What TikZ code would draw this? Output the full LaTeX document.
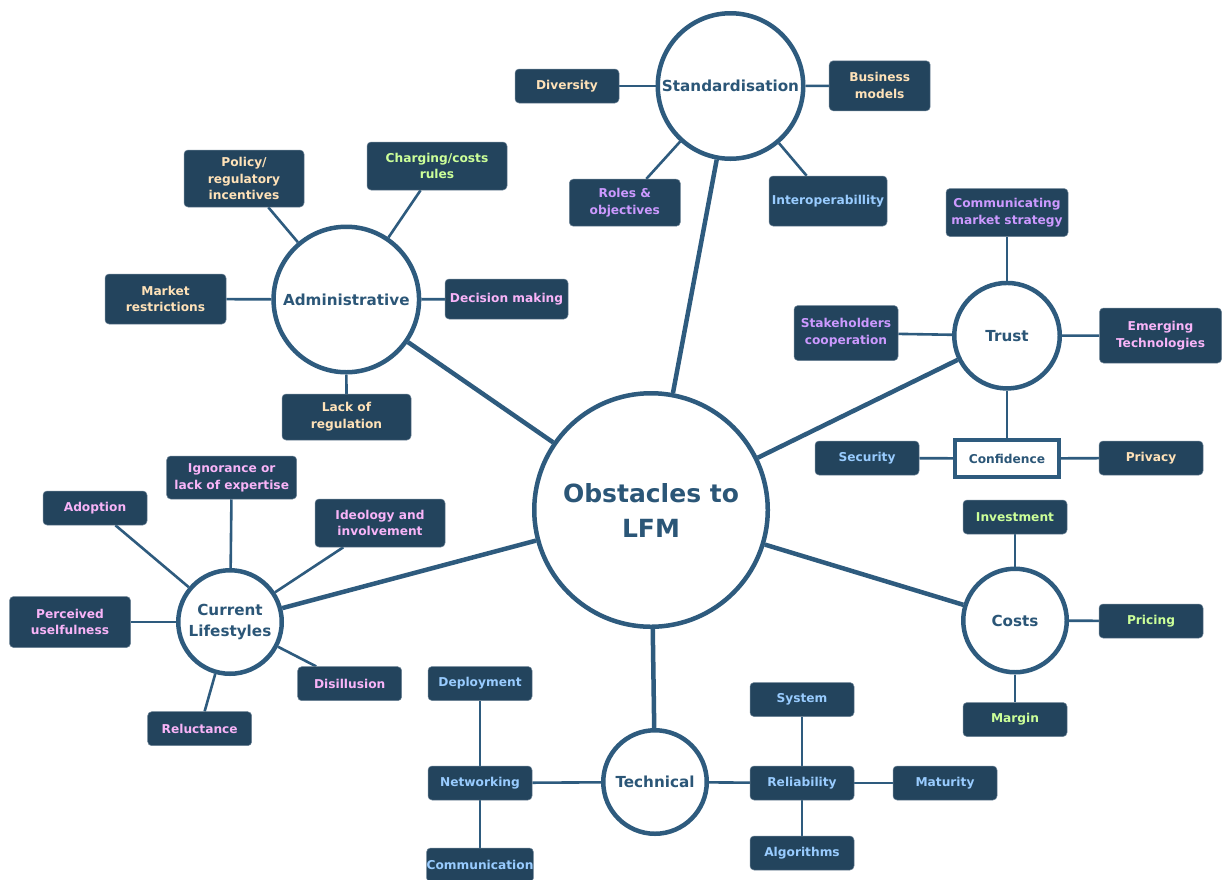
\documentclass[tikz,border=0pt]{standalone}
\usepackage{fontspec}
\setmainfont{DejaVu Sans}
\usetikzlibrary{backgrounds}
\definecolor{navy}{HTML}{23445D}
\definecolor{steel}{HTML}{2E5B7E}
\definecolor{hubtext}{HTML}{2B5677}
\definecolor{peach}{HTML}{FFE2B8}
\definecolor{lgreen}{HTML}{CCFF99}
\definecolor{purp}{HTML}{CC99FF}
\definecolor{pinkish}{HTML}{F8B4F8}
\definecolor{lblue}{HTML}{99CCFF}
\definecolor{boxedge}{HTML}{6C8396}
\newcommand\boxfnt{\fontsize{12.2}{16.8}\selectfont\bfseries}
\newcommand\hubfnt{\fontsize{15.2}{21}\selectfont\bfseries}
\newcommand\mainfnt{\fontsize{25}{35}\selectfont\bfseries}
\tikzset{
  bx/.style={rectangle, rounded corners=4pt, fill=navy, draw=boxedge, line width=0.5pt,
    font=\boxfnt, align=center, inner sep=0pt},
  hub/.style={circle, draw=steel, line width=4.5pt, fill=white, text=hubtext,
    font=\hubfnt, align=center, inner sep=0pt},
  conf/.style={rectangle, draw=steel, line width=4pt, fill=white, text=hubtext,
    font=\boxfnt, inner sep=0pt},
  link/.style={draw=steel, line width=2.6pt},
  mainlink/.style={draw=steel, line width=4.5pt},
}
\begin{document}
\begin{tikzpicture}[x=1pt,y=-1pt]
\useasboundingbox (0,0) rectangle (1222,879);

% hubs
\node[hub, minimum size=233.5, font=\mainfnt] (c) at (651,510) {Obstacles to\\LFM};
\node[hub, minimum size=145.5] (std) at (730.5,86) {Standardisation};
\node[hub, minimum size=145.5] (adm) at (346.3,299.5) {Administrative};
\node[hub, minimum size=105.5] (trust) at (1007,335.7) {Trust};
\node[hub, minimum size=103.5] (costs) at (1015,620.5) {Costs};
\node[hub, minimum size=103.5] (tech) at (655,782) {Technical};
\node[hub, minimum size=103.5] (cl) at (230,622) {Current\\Lifestyles};

% Standardisation
\node[bx, text=peach, minimum width=104, minimum height=34] (div) at (567,86) {Diversity};
\node[bx, text=peach, minimum width=101, minimum height=50] (bm) at (879.7,85.8) {Business\\models};
\node[bx, text=purp, minimum width=111, minimum height=47] (roles) at (624.8,202.7) {Roles \&\\objectives};
\node[bx, text=lblue, minimum width=118, minimum height=50] (inter) at (828,201) {Interoperabillity};

% Administrative
\node[bx, text=peach, minimum width=120, minimum height=57] (pol) at (244,178.5) {Policy/\\regulatory\\incentives};
\node[bx, text=lgreen, minimum width=140, minimum height=48] (chg) at (437,166) {Charging/costs\\rules};
\node[bx, text=peach, minimum width=121, minimum height=50] (mkt) at (165.5,299) {Market\\restrictions};
\node[bx, text=pinkish, minimum width=123, minimum height=40] (dec) at (506.5,299) {Decision making};
\node[bx, text=peach, minimum width=129, minimum height=46] (lack) at (346.5,417) {Lack of\\regulation};

% Trust
\node[bx, text=purp, minimum width=122, minimum height=48] (comm) at (1007,212.5) {Communicating\\market strategy};
\node[bx, text=purp, minimum width=104, minimum height=55] (stk) at (846,333) {Stakeholders\\cooperation};
\node[bx, text=pinkish, minimum width=122, minimum height=55] (emg) at (1160.5,335.5) {Emerging\\Technologies};
\node[conf, minimum width=104, minimum height=37] (cnf) at (1007,458.5) {Confidence};
\node[bx, text=lblue, minimum width=104, minimum height=34] (sec) at (867,458) {Security};
\node[bx, text=peach, minimum width=104, minimum height=34] (prv) at (1151,458) {Privacy};

% Costs
\node[bx, text=lgreen, minimum width=104, minimum height=34] (inv) at (1015,517) {Investment};
\node[bx, text=lgreen, minimum width=104, minimum height=34] (prc) at (1151,621) {Pricing};
\node[bx, text=lgreen, minimum width=104, minimum height=34] (mrg) at (1015,719.5) {Margin};

% Current Lifestyles
\node[bx, text=pinkish, minimum width=104, minimum height=34] (adp) at (95,508) {Adoption};
\node[bx, text=pinkish, minimum width=130, minimum height=43] (ign) at (231.7,477.5) {Ignorance or\\lack of expertise};
\node[bx, text=pinkish, minimum width=130, minimum height=48] (ideo) at (380,523) {Ideology and\\involvement};
\node[bx, text=pinkish, minimum width=121, minimum height=51] (perc) at (70,622) {Perceived\\uselfulness};
\node[bx, text=pinkish, minimum width=104, minimum height=34] (dis) at (349.7,683.7) {Disillusion};
\node[bx, text=pinkish, minimum width=104, minimum height=34] (rel) at (199.7,728.7) {Reluctance};

% Technical
\node[bx, text=lblue, minimum width=104, minimum height=34] (dep) at (480,683.5) {Deployment};
\node[bx, text=lblue, minimum width=104, minimum height=34] (net) at (480,783) {Networking};
\node[bx, text=lblue, minimum width=104, minimum height=34] (com) at (480,865) {Communication};
\node[bx, text=lblue, minimum width=104, minimum height=34] (sys) at (802,699.5) {System};
\node[bx, text=lblue, minimum width=104, minimum height=34] (rlb) at (802,783) {Reliability};
\node[bx, text=lblue, minimum width=104, minimum height=34] (alg) at (802,853) {Algorithms};
\node[bx, text=lblue, minimum width=104, minimum height=34] (mat) at (945,783) {Maturity};

\begin{scope}[on background layer]
\fill[white] (0,0) rectangle (1222,879);
\draw[mainlink] (c) -- (std);
\draw[mainlink] (c) -- (adm);
\draw[mainlink] (c) -- (trust);
\draw[mainlink] (c) -- (costs);
\draw[mainlink] (c) -- (tech);
\draw[mainlink] (c) -- (cl);
\draw[link] (std) -- (div);
\draw[link] (std) -- (bm);
\draw[link] (std) -- (roles);
\draw[link] (std) -- (inter);
\draw[link] (adm) -- (pol);
\draw[link] (adm) -- (chg);
\draw[link] (adm) -- (mkt);
\draw[link] (adm) -- (dec);
\draw[link] (adm) -- (lack);
\draw[link] (trust) -- (comm);
\draw[link] (trust) -- (stk);
\draw[link] (trust) -- (emg);
\draw[link] (trust) -- (cnf);
\draw[link] (cnf) -- (sec);
\draw[link] (cnf) -- (prv);
\draw[link] (costs) -- (inv);
\draw[link] (costs) -- (prc);
\draw[link] (costs) -- (mrg);
\draw[link] (cl) -- (adp);
\draw[link] (cl) -- (ign);
\draw[link] (cl) -- (ideo);
\draw[link] (cl) -- (perc);
\draw[link] (cl) -- (dis);
\draw[link] (cl) -- (rel);
\draw[link] (tech) -- (net);
\draw[link] (net) -- (dep);
\draw[link] (net) -- (com);
\draw[link] (tech) -- (rlb);
\draw[link] (rlb) -- (sys);
\draw[link] (rlb) -- (alg);
\draw[link] (rlb) -- (mat);
\end{scope}
\end{tikzpicture}
\end{document}
